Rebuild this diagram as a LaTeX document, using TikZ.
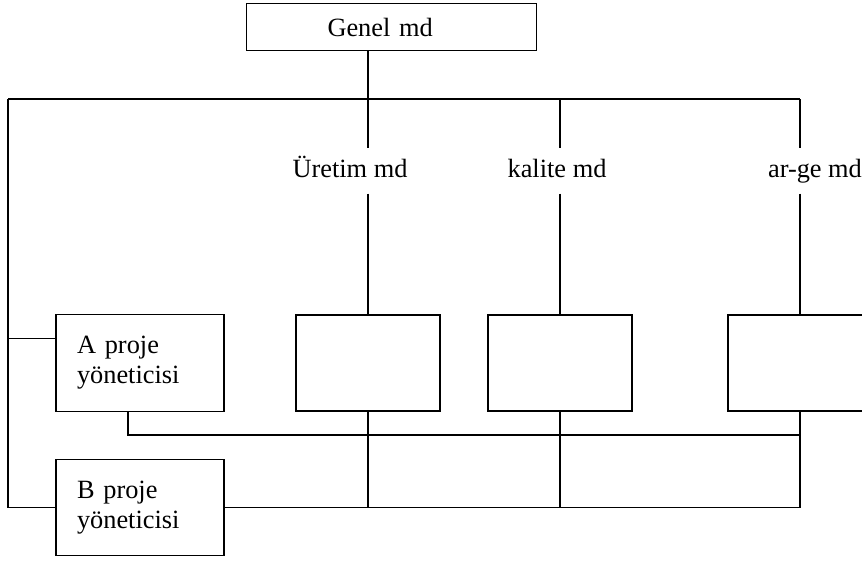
\documentclass[tikz,border=0pt]{standalone}
\usepackage{fontspec}
\setmainfont{Liberation Serif}
\usetikzlibrary{positioning}
\usetikzlibrary{calc}

\begin{document}
\begin{tikzpicture}[
    x=0.02cm, y=-0.02cm,
    line width=0.8pt,
    every node/.style={font=\fontsize{15}{17}\selectfont},
    top/.style={align=left, rectangle, draw=black, fill=white, text width=2.56cm, inner xsep=1.62cm, minimum height=0.94cm},
    mgr/.style={align=left, rectangle, draw=black, fill=white, text width=2.52cm, inner xsep=0.42cm, minimum height=1.93cm},
    dept/.style={rectangle, draw=black, fill=white, minimum width=2.88cm, minimum height=1.92cm},
    lbl/.style={inner sep=0pt, text height=11pt, text depth=3.5pt, minimum height=0.88cm}
]
    \useasboundingbox (0,0) rectangle (862,561);
    \clip (0,0) rectangle (862,561);

    \node[top] (G) at (391.5,27) {Genel md};

    \node[lbl] (L1) at (350,171) {Üretim md};
    \node[lbl] (L2) at (557,171) {kalite md};
    \node[lbl] (L3) at (815,171) {ar-ge md};

    \node[mgr] (A) at (140,363) {A proje\\yöneticisi};
    \node[mgr] (B) at (140,507.5) {B proje\\yöneticisi};

    \node[dept] (D1) at (368,363) {};
    \node[dept] (D2) at (560,363) {};
    \node[dept] (D3) at (800,363) {};

    \coordinate (K0) at (8,99);
    \coordinate (K1) at (368,99);
    \coordinate (K2) at (560,99);
    \coordinate (K3) at (800,99);
    \coordinate (AB) at (800,435);
    \coordinate (AI) at ($(A.north west)!0.25!(A.south west)$);

    % top bus
    \draw (G.south -| K1) -- (K1);
    \draw (K0) -- (K3);
    \draw (K1) -- (K1 |- L1.north);
    \draw (K2) -- (K2 |- L2.north);
    \draw (K3) -- (K3 |- L3.north);
    \draw (L1.south -| D1) -- (D1.north);
    \draw (L2.south -| D2) -- (D2.north);
    \draw (L3.south -| D3) -- (D3.north);

    % left side
    \draw (K0) |- (B.west);
    \draw (K0 |- AI) -- (AI);

    % lower buses
    \draw ([xshift=-0.24cm]A.south) |- (AB);
    \draw (B.east) -- (D3.south |- B.east);
    \draw (D1.south) -- (D1.south |- B.east);
    \draw (D2.south) -- (D2.south |- B.east);
    \draw (D3.south) -- (D3.south |- B.east);

\end{tikzpicture}
\end{document}
